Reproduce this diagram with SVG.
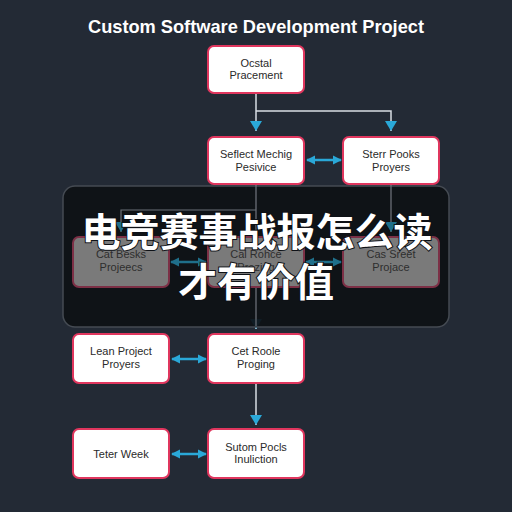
<svg xmlns="http://www.w3.org/2000/svg" width="512" height="512" viewBox="0 0 512 512">
<defs>
<style>
.node rect{fill:#ffffff;stroke:#e0365e;stroke-width:2}
.node text{font-family:"Liberation Sans",Arial,sans-serif;font-size:11px;fill:#2a2a2a;text-anchor:middle}
.dim rect{fill:#7a7a7a;stroke:#7c3046;stroke-width:2}
.dim text{font-family:"Liberation Sans",Arial,sans-serif;font-size:11px;fill:#2e2e2e;text-anchor:middle}
.ln{fill:none;stroke:#d9dee4;stroke-width:1.5}
.lnd{fill:none;stroke:#6b7078;stroke-width:1.2}
.bi{stroke:#2aa8d8;stroke-width:2.5;fill:none}
.bid{stroke:#1f6f8a;stroke-width:2.5;fill:none}
</style>
<marker id="ah" viewBox="0 0 10 10" refX="9" refY="5" markerWidth="9" markerHeight="10" orient="auto-start-reverse" markerUnits="userSpaceOnUse">
<path d="M0,0 L10,5 L0,10 z" fill="#2aa8d8"/>
</marker>
<marker id="ahd" viewBox="0 0 10 10" refX="9" refY="5" markerWidth="9" markerHeight="10" orient="auto-start-reverse" markerUnits="userSpaceOnUse">
<path d="M0,0 L10,5 L0,10 z" fill="#1f6f8a"/>
</marker>
<marker id="down" viewBox="0 0 12 10" refX="6" refY="10" markerWidth="12" markerHeight="10" orient="0" markerUnits="userSpaceOnUse">
<path d="M0,0 L12,0 L6,10 z" fill="#2aa8d8"/>
</marker>
<marker id="downd" viewBox="0 0 12 10" refX="6" refY="10" markerWidth="12" markerHeight="10" orient="0" markerUnits="userSpaceOnUse">
<path d="M0,0 L12,0 L6,10 z" fill="#1f6f8a"/>
</marker>
</defs>
<rect width="512" height="512" fill="#232a35"/>
<text x="256" y="33" font-family="'Liberation Sans',Arial,sans-serif" font-size="19" font-weight="bold" fill="#ffffff" text-anchor="middle" textLength="336" lengthAdjust="spacingAndGlyphs">Custom Software Development Project</text>

<g id="connectors">
<path class="ln" d="M256,93 V131" marker-end="url(#down)"/>
<path class="ln" d="M256,111 H391 V131" marker-end="url(#down)"/>
<path class="bi" d="M307,160 H341" marker-start="url(#ah)" marker-end="url(#ah)"/>
<path class="ln" d="M256,184 V237"/>
<path class="ln" d="M391,184 V232"/>
<path class="ln" d="M256,287 V329" marker-end="url(#down)"/>
<path class="bi" d="M172,359 H206" marker-start="url(#ah)" marker-end="url(#ah)"/>
<path class="ln" d="M256,383 V425" marker-end="url(#down)"/>
<path class="bi" d="M172,454 H206" marker-start="url(#ah)" marker-end="url(#ah)"/>
</g>

<g id="n1" class="node"><rect x="208" y="46" width="96" height="47" rx="6"/><text x="256" y="67">Ocstal</text><text x="256" y="79">Pracement</text></g>
<g id="n2" class="node"><rect x="208" y="137" width="96" height="47" rx="6"/><text x="256" y="158">Seflect Mechig</text><text x="256" y="171">Pesivice</text></g>
<g id="n3" class="node"><rect x="343" y="137" width="96" height="47" rx="6"/><text x="391" y="158">Sterr Pooks</text><text x="391" y="171">Proyers</text></g>

<g id="overlay">
<rect x="63" y="186" width="386" height="141" rx="12" fill="#0e1116" fill-opacity="0.93" stroke="#454b53" stroke-width="1.5"/>
<path class="lnd" d="M256,186 V326"/>
<path class="lnd" d="M256,210 H121 V232" marker-end="url(#downd)"/>
<path class="lnd" d="M391,186 V232" marker-end="url(#downd)"/>
<path class="bid" d="M171,262 H206" marker-start="url(#ahd)" marker-end="url(#ahd)"/>
<path class="bid" d="M306,262 H341" marker-start="url(#ahd)" marker-end="url(#ahd)"/>
<g id="d1" class="dim"><rect x="73" y="237" width="96" height="50" rx="6"/><text x="121" y="258">Cat Besks</text><text x="121" y="271">Projeecs</text></g>
<g id="d2" class="dim"><rect x="208" y="237" width="96" height="50" rx="6"/><text x="256" y="258">Cal Rohce</text><text x="256" y="271">Prezing</text></g>
<g id="d3" class="dim"><rect x="343" y="237" width="96" height="50" rx="6"/><text x="391" y="258">Cas Sreet</text><text x="391" y="271">Projace</text></g>
<g font-family="'Noto Sans CJK SC',sans-serif" font-size="39" font-weight="bold" fill="#ffffff" text-anchor="middle" stroke="#0e1116" stroke-width="2" paint-order="stroke">
<text x="257" y="246">电竞赛事战报怎么读</text>
<text x="256" y="296">才有价值</text>
</g>
</g>

<g id="n4" class="node"><rect x="73" y="334" width="96" height="49" rx="6"/><text x="121" y="355">Lean Project</text><text x="121" y="368">Proyers</text></g>
<g id="n5" class="node"><rect x="208" y="334" width="96" height="49" rx="6"/><text x="256" y="355">Cet Roole</text><text x="256" y="368">Proging</text></g>
<g id="n6" class="node"><rect x="73" y="429" width="96" height="49" rx="6"/><text x="121" y="458">Teter Week</text></g>
<g id="n7" class="node"><rect x="208" y="429" width="96" height="49" rx="6"/><text x="256" y="451">Sutom Pocls</text><text x="256" y="463">Inuliction</text></g>
</svg>
